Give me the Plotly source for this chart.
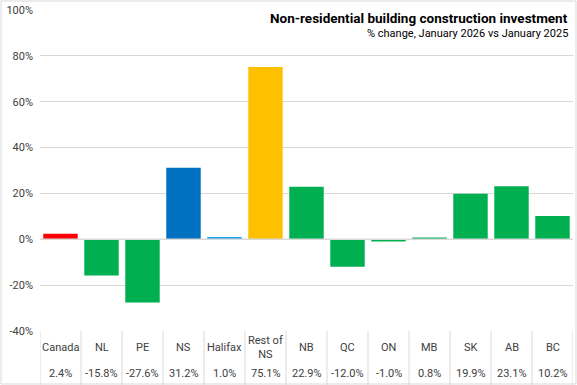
import plotly.graph_objects as go

categories = ["Canada", "NL", "PE", "NS", "Halifax", "Rest of NS", "NB", "QC", "ON", "MB", "SK", "AB", "BC"]
labels = ["Canada", "NL", "PE", "NS", "Halifax", "Rest of<br>NS", "NB", "QC", "ON", "MB", "SK", "AB", "BC"]
values = [2.4, -15.8, -27.6, 31.2, 1.0, 75.1, 22.9, -12.0, -1.0, 0.8, 19.9, 23.1, 10.2]
value_text = ["2.4%", "-15.8%", "-27.6%", "31.2%", "1.0%", "75.1%", "22.9%", "-12.0%", "-1.0%", "0.8%", "19.9%", "23.1%", "10.2%"]
colors = ["#FF0000", "#00B050", "#00B050", "#0070C0", "#1AA3E8", "#FFC000", "#00B050",
          "#00B050", "#00B050", "#00B050", "#00B050", "#00B050", "#00B050"]
y_ticks = [-40, -20, 0, 20, 40, 60, 80, 100]

W, H = 577, 385
ml, mr, mt, mb = 40, 4, 10, 54
plot_h = H - mt - mb

fig = go.Figure(go.Bar(x=list(range(len(categories))), y=values, marker=dict(color=colors, line=dict(width=0)),
                       width=0.84, hoverinfo="skip"))

font = "Roboto, Arial, sans-serif"
anns = []
shapes = []
for i, (lab, vt) in enumerate(zip(labels, value_text)):
    anns.append(dict(x=i, y=-(348 - (H - mb)) / plot_h, xref="x", yref="paper", text=lab, showarrow=False,
                     font=dict(size=11, color="#404040", family=font), yanchor="middle"))
    anns.append(dict(x=i, y=-(373 - (H - mb)) / plot_h, xref="x", yref="paper", text=vt, showarrow=False,
                     font=dict(size=11, color="#404040", family=font), yanchor="middle"))
for i in range(len(categories) + 1):
    shapes.append(dict(type="line", xref="x", yref="paper", x0=i - 0.5, x1=i - 0.5, y0=0, y1=-mb / plot_h,
                       line=dict(color="#D9D9D9", width=1)))
shapes.append(dict(type="line", xref="paper", yref="y", x0=0, x1=1, y0=0, y1=0, line=dict(color="#D9D9D9", width=1.5)))
shapes.append(dict(type="rect", xref="paper", yref="paper", x0=-(ml - 1) / (W - ml - mr), x1=1 + (mr - 1) / (W - ml - mr),
                   y0=-(mb - 1) / plot_h, y1=1 + (mt - 1) / plot_h, line=dict(color="#D9D9D9", width=1), layer="below"))

anns.append(dict(x=1 - 3 / (W - ml - mr), y=1 - 8 / plot_h, xref="paper", yref="paper", xanchor="right", yanchor="middle",
                 text="<b>Non-residential building construction investment</b>", showarrow=False,
                 font=dict(size=13.5, color="#000000", family=font)))
anns.append(dict(x=1 - 3 / (W - ml - mr), y=1 - 23 / plot_h, xref="paper", yref="paper", xanchor="right", yanchor="middle",
                 text="% change, January 2026 vs January 2025", showarrow=False,
                 font=dict(size=11, color="#000000", family=font)))

fig.update_layout(
    width=W, height=H, margin=dict(l=ml, r=mr, t=mt, b=mb),
    paper_bgcolor="white", plot_bgcolor="white", showlegend=False,
    xaxis=dict(range=[-0.5, len(categories) - 0.5], showticklabels=False, showgrid=False, zeroline=False,
               showline=False, fixedrange=True),
    yaxis=dict(range=[-40, 100], tickvals=y_ticks, ticktext=[f"{v}%" for v in y_ticks], showgrid=True,
               gridcolor="#D9D9D9", gridwidth=1, zeroline=False, showline=False,
               tickfont=dict(size=11, color="#404040", family=font), ticklabelstandoff=6),
    annotations=anns, shapes=shapes, bargap=0.16,
)
fig.write_html("out.html", config={"displayModeBar": False},
               post_script="document.body.style.margin='0';document.body.style.overflow='hidden';")
